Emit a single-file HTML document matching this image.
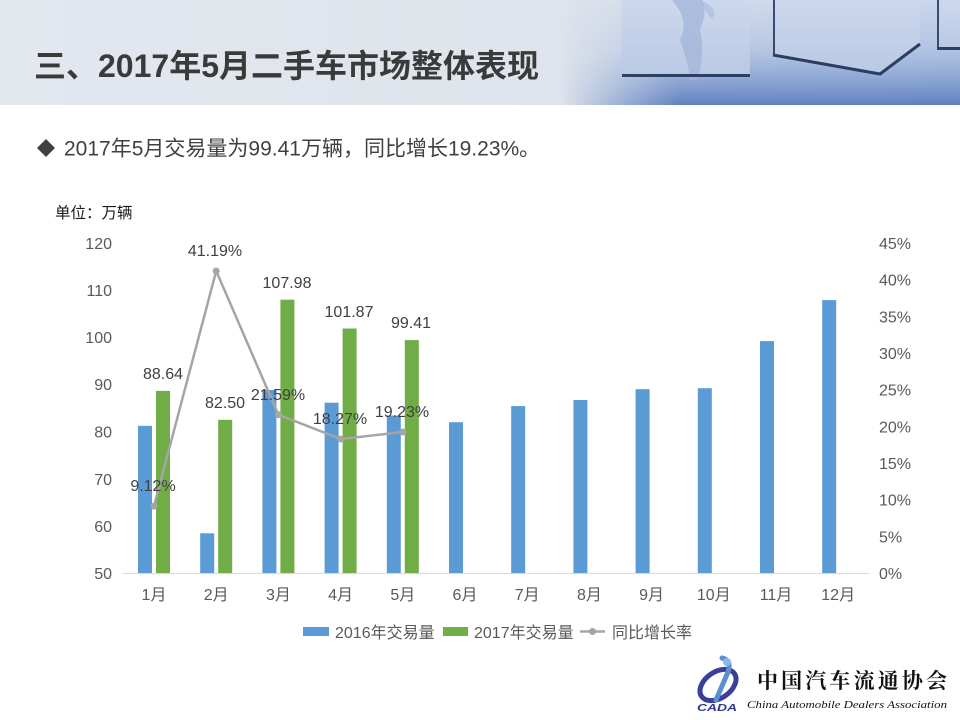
<!DOCTYPE html>
<html><head><meta charset="utf-8">
<style>
html,body{margin:0;padding:0;background:#fff;}
body{width:960px;height:720px;overflow:hidden;position:relative;font-family:"Liberation Sans","Noto Sans CJK SC",sans-serif;}
svg{position:absolute;left:0;top:0;}
</style></head>
<body>
<svg width="960" height="720" viewBox="0 0 960 720" xmlns="http://www.w3.org/2000/svg" font-family="Liberation Sans, Noto Sans CJK SC, sans-serif">
<defs>
<linearGradient id="bg" x1="0" y1="0" x2="1" y2="0">
<stop offset="0" stop-color="#e3e7ee"/>
<stop offset="0.58" stop-color="#dfe4ec"/>
<stop offset="0.66" stop-color="#d6deeb"/>
<stop offset="1" stop-color="#c9d6ec"/>
</linearGradient>
<linearGradient id="bgv" x1="0" y1="0" x2="0" y2="1">
<stop offset="0" stop-color="#8fa9d6" stop-opacity="0"/>
<stop offset="0.45" stop-color="#8aa5d6" stop-opacity="0.35"/>
<stop offset="1" stop-color="#5a7cbd" stop-opacity="0.95"/>
</linearGradient>
<linearGradient id="fade" x1="0" y1="0" x2="1" y2="0">
<stop offset="0" stop-color="#fff" stop-opacity="0"/>
<stop offset="0.3" stop-color="#fff" stop-opacity="1"/>
</linearGradient>
<mask id="m"><rect x="560" y="0" width="400" height="105" fill="url(#fade)"/></mask>
<linearGradient id="cube" x1="0" y1="0" x2="0" y2="1">
<stop offset="0" stop-color="#ccd8ec"/>
<stop offset="1" stop-color="#b9c9e4"/>
</linearGradient>
</defs>

<!-- header banner -->
<rect x="0" y="0" width="960" height="105" fill="url(#bg)"/>
<rect x="560" y="0" width="400" height="105" fill="url(#bgv)" mask="url(#m)"/>
<rect x="622" y="0" width="128" height="77" fill="url(#cube)"/>
<path d="M672 0 Q690 20 680 40 Q688 60 690 80 L698 80 Q705 50 700 30 Q708 10 702 0 Z" fill="#9fb4d8" opacity="0.7"/>
<rect x="622" y="74" width="128" height="3" fill="#2d3f63"/>
<polygon points="773,0 920,0 920,45 880,75 773,57" fill="url(#cube)"/>
<path d="M700 0 Q720 8 712 20 Q705 10 700 0Z" fill="#a7bbdc" opacity="0.6"/>
<line x1="774" y1="0" x2="774" y2="56" stroke="#3a4a70" stroke-width="2"/>
<polyline points="773,55 880,74 920,44" fill="none" stroke="#2b3d62" stroke-width="3"/>
<rect x="937" y="0" width="23" height="50" fill="url(#cube)"/>
<line x1="938" y1="0" x2="938" y2="48" stroke="#3a4a70" stroke-width="2"/>
<rect x="937" y="47" width="23" height="3" fill="#2d3f63"/>

<text x="34" y="77" font-size="32" font-weight="bold" fill="#3a3a3a">三、2017年5月二手车市场整体表现</text>

<!-- subtitle -->
<polygon points="46,139 55,148 46,157 37,148" fill="#404040"/>
<text x="64" y="155.5" font-size="21" fill="#404040">2017年5月交易量为99.41万辆，同比增长19.23%。</text>

<text x="55" y="218" font-size="15.5" fill="#1a1a1a">单位：万辆</text>

<!-- left axis labels -->
<g font-size="16" fill="#595959" text-anchor="end">
<text x="112" y="249">120</text>
<text x="112" y="296">110</text>
<text x="112" y="343">100</text>
<text x="112" y="390">90</text>
<text x="112" y="437.5">80</text>
<text x="112" y="485">70</text>
<text x="112" y="532">60</text>
<text x="112" y="579">50</text>
</g>
<!-- right axis labels -->
<g font-size="16" fill="#595959">
<text x="879" y="249">45%</text>
<text x="879" y="285.7">40%</text>
<text x="879" y="322.3">35%</text>
<text x="879" y="359">30%</text>
<text x="879" y="395.7">25%</text>
<text x="879" y="432.3">20%</text>
<text x="879" y="469">15%</text>
<text x="879" y="505.7">10%</text>
<text x="879" y="542.3">5%</text>
<text x="879" y="579">0%</text>
</g>

<!-- blue bars -->
<g fill="#5b9bd5">
<rect x="138" y="425.8" width="14" height="147.2"/>
<rect x="200.2" y="533.3" width="14" height="39.7"/>
<rect x="262.4" y="390.0" width="14" height="183"/>
<rect x="324.6" y="402.7" width="14" height="170.3"/>
<rect x="386.8" y="415.6" width="14" height="157.4"/>
<rect x="449" y="422.2" width="14" height="150.8"/>
<rect x="511.2" y="406.1" width="14" height="166.9"/>
<rect x="573.4" y="400.0" width="14" height="173"/>
<rect x="635.6" y="389.2" width="14" height="183.8"/>
<rect x="697.8" y="388.2" width="14" height="184.8"/>
<rect x="760" y="341.1" width="14" height="231.9"/>
<rect x="822.2" y="300.1" width="14" height="272.9"/>
</g>
<!-- green bars -->
<g fill="#70ad47">
<rect x="156" y="390.9" width="14" height="182.1"/>
<rect x="218.2" y="419.8" width="14" height="153.2"/>
<rect x="280.4" y="299.7" width="14" height="273.3"/>
<rect x="342.6" y="328.5" width="14" height="244.5"/>
<rect x="404.8" y="340.1" width="14" height="232.9"/>
</g>

<line x1="123" y1="573.5" x2="869" y2="573.5" stroke="#d9d9d9" stroke-width="1"/>

<!-- growth line -->
<polyline points="154,506.1 216.2,271 278.4,414.7 340.6,439 402.8,432" fill="none" stroke="#a5a5a5" stroke-width="2.5" stroke-linejoin="round"/>
<g fill="#a5a5a5">
<circle cx="154" cy="506.1" r="3.5"/>
<circle cx="216.2" cy="271" r="3.5"/>
<circle cx="278.4" cy="414.7" r="3.5"/>
<circle cx="340.6" cy="439" r="3.5"/>
<circle cx="402.8" cy="432" r="3.5"/>
</g>

<!-- data labels -->
<g font-size="16" fill="#404040" text-anchor="middle">
<text x="163" y="379">88.64</text>
<text x="225" y="408">82.50</text>
<text x="287" y="288">107.98</text>
<text x="349" y="317">101.87</text>
<text x="411" y="328">99.41</text>
<text x="153" y="491">9.12%</text>
<text x="215" y="256">41.19%</text>
<text x="278" y="400">21.59%</text>
<text x="340" y="424">18.27%</text>
<text x="402" y="417">19.23%</text>
</g>

<!-- month labels -->
<g font-size="16" fill="#595959" text-anchor="middle">
<text x="154" y="600">1月</text>
<text x="216.2" y="600">2月</text>
<text x="278.4" y="600">3月</text>
<text x="340.6" y="600">4月</text>
<text x="402.8" y="600">5月</text>
<text x="465" y="600">6月</text>
<text x="527.2" y="600">7月</text>
<text x="589.4" y="600">8月</text>
<text x="651.6" y="600">9月</text>
<text x="713.8" y="600">10月</text>
<text x="776" y="600">11月</text>
<text x="838.2" y="600">12月</text>
</g>

<!-- legend -->
<rect x="303" y="627" width="26" height="9" fill="#5b9bd5"/>
<text x="335" y="638" font-size="16" fill="#595959">2016年交易量</text>
<rect x="443" y="627" width="25" height="9" fill="#70ad47"/>
<text x="474" y="638" font-size="16" fill="#595959">2017年交易量</text>
<line x1="580" y1="631.5" x2="605" y2="631.5" stroke="#a5a5a5" stroke-width="2.5"/>
<circle cx="592.5" cy="631.5" r="3.5" fill="#a5a5a5"/>
<text x="612" y="638" font-size="16" fill="#595959">同比增长率</text>

<!-- logo -->
<ellipse cx="718" cy="685" rx="20" ry="13" fill="none" stroke="#3a3f9a" stroke-width="5" transform="rotate(-35 718 685)"/>
<path d="M722 658 Q732 660 728 672 Q722 686 716 700" fill="none" stroke="#5a8fd0" stroke-width="5" stroke-linecap="round"/>
<circle cx="727" cy="662" r="4" fill="#8fb8e8"/>
<text x="697" y="711" font-size="10" font-weight="bold" font-style="italic" fill="#2e3a8c" textLength="40" lengthAdjust="spacingAndGlyphs">CADA</text>
<text x="757" y="688" font-size="21" font-weight="bold" fill="#111" font-family="Noto Serif CJK SC, serif" textLength="190" lengthAdjust="spacing">中国汽车流通协会</text>
<text x="747" y="708" font-size="11" font-style="italic" fill="#111" font-family="Liberation Serif, serif" textLength="200" lengthAdjust="spacingAndGlyphs">China Automobile Dealers Association</text>
</svg>
</body></html>
